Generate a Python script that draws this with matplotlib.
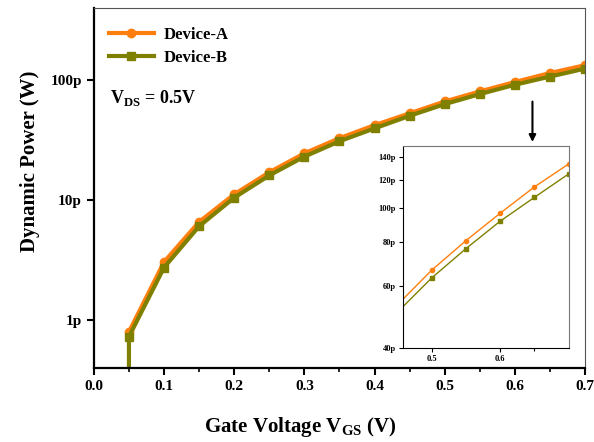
import matplotlib
matplotlib.use('Agg')
import matplotlib.pyplot as plt
from matplotlib.ticker import FixedLocator, FuncFormatter, NullLocator

plt.rcParams['font.family'] = ['Liberation Serif', 'DejaVu Serif']
plt.rcParams['font.weight'] = 'bold'
plt.rcParams['mathtext.fontset'] = 'custom'
plt.rcParams['mathtext.rm'] = 'Liberation Serif:bold'
plt.rcParams['mathtext.bf'] = 'Liberation Serif:bold'

# data (W)
vgs = [0.05, 0.10, 0.15, 0.20, 0.25, 0.30, 0.35, 0.40, 0.45, 0.50, 0.55, 0.60, 0.65, 0.70]
power_a = [0.80, 3.06, 6.6, 11.2, 17.1, 24.6, 32.9, 42.2, 53.0, 66.5, 80.7, 96.6, 114.8, 133.4]
power_b = [0.73, 2.75, 6.07, 10.5, 16.1, 23.1, 31.0, 39.7, 50.5, 63.2, 76.6, 91.7, 107.2, 125.0]
# device B trace starts from ~0 at the first bias point
vgs_b = [0.05] + vgs
power_b_full = [1e-4] + power_b

pico = 1e-12
ya = [v * pico for v in power_a]
yb = [v * pico for v in power_b_full]

color_a = '#ff7f0e'
color_b = '#808000'


def pico_fmt(v, pos):
    return f'{v / pico:g}p'


fig = plt.figure(figsize=(5.94, 4.42), dpi=100)
ax = fig.add_axes([0.158, 0.1674, 0.827, 0.8146])

ax.plot(vgs, ya, color=color_a, marker='o', markersize=6, linewidth=3, label='Device-A')
ax.plot(vgs_b, yb, color=color_b, marker='s', markersize=6, linewidth=3, label='Device-B')

ax.set_yscale('log')
ax.set_xlim(0, 0.7)
ax.set_ylim(0.4e-12, 400e-12)
ax.yaxis.set_major_locator(FixedLocator([1e-12, 10e-12, 100e-12]))
ax.yaxis.set_minor_locator(NullLocator())
ax.yaxis.set_major_formatter(FuncFormatter(pico_fmt))
ax.set_xticks([0.0, 0.1, 0.2, 0.3, 0.4, 0.5, 0.6, 0.7])
ax.xaxis.set_minor_locator(FixedLocator([0.05, 0.15, 0.25, 0.35, 0.45, 0.55, 0.65]))
ax.tick_params(axis='both', which='major', labelsize=11, width=1.5, length=5)
ax.tick_params(axis='x', which='minor', width=1.2, length=3)
for lbl in ax.get_xticklabels() + ax.get_yticklabels():
    lbl.set_fontweight('bold')

ax.spines['left'].set_linewidth(1.6)
ax.spines['bottom'].set_linewidth(1.6)
ax.spines['top'].set_color('#555555')
ax.spines['right'].set_color('#555555')

ax.set_ylabel('Dynamic Power (W)', fontsize=15, fontweight='bold')
ax.yaxis.set_label_coords(-0.11, 0.575)
ax.set_xlabel(r'Gate Voltage V$_{\mathregular{GS}}$ (V)', fontsize=15, fontweight='bold')
ax.xaxis.set_label_coords(0.42, -0.13)

leg = ax.legend(loc='upper left', bbox_to_anchor=(0.0, 0.99), frameon=False,
                prop={'size': 12, 'weight': 'bold'}, handlelength=2.7,
                handletextpad=0.6, labelspacing=0.45)

ax.text(0.033, 0.75, r'V$_{\mathregular{DS}}$ = 0.5V', transform=ax.transAxes,
        fontsize=13, fontweight='bold', va='center')

ax.annotate('', xy=(0.625, 29e-12), xytext=(0.625, 70e-12),
            arrowprops=dict(arrowstyle='-|>', color='black', lw=1.5, mutation_scale=10))

# inset
axin = fig.add_axes([0.678, 0.2127, 0.2795, 0.457])
axin.plot(vgs, ya, color=color_a, marker='o', markersize=3, linewidth=1)
axin.plot(vgs_b, yb, color=color_b, marker='s', markersize=3, linewidth=1)
axin.set_yscale('log')
axin.set_xlim(0.458, 0.7)
axin.set_ylim(40e-12, 150e-12)
axin.yaxis.set_major_locator(FixedLocator([40e-12, 60e-12, 80e-12, 100e-12, 120e-12, 140e-12]))
axin.yaxis.set_minor_locator(NullLocator())
axin.yaxis.set_major_formatter(FuncFormatter(pico_fmt))
axin.set_xticks([0.5, 0.6])
axin.xaxis.set_minor_locator(FixedLocator([0.65]))
axin.tick_params(axis='both', which='major', labelsize=6, length=3, width=0.8, pad=2)
axin.tick_params(axis='x', which='minor', length=2, width=0.8)
for sp in ['top', 'right']:
    axin.spines[sp].set_color('#777777')

fig.savefig('out.png', dpi=100)
